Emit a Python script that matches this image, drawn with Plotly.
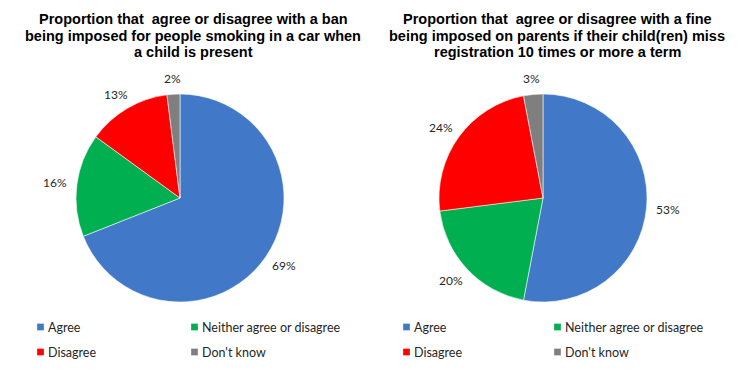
import math
import plotly.graph_objects as go

W, H = 742, 371

categories = ["Agree", "Neither agree or disagree", "Disagree", "Don't know"]
smoking_values = [69, 16, 13, 2]
fine_values = [53, 20, 24, 3]
colors = ["#4179C8", "#00B050", "#FF0000", "#7F7F7F"]

title_left = ["Proportion that\u00a0 agree or disagree with a ban",
              "being imposed for people smoking in a car when",
              "a child is present"]
title_right = ["Proportion that\u00a0 agree or disagree with a fine",
               "being imposed on parents if their child(ren) miss",
               "registration 10 times or more a term"]

# pie geometry (pixels)
R = 104
centers = [(180, 198), (543, 198)]


def dom(cx, cy):
    return dict(x=[(cx - R) / W, (cx + R) / W],
                y=[1 - (cy + R) / H, 1 - (cy - R) / H])


fig = go.Figure()
annotations = []
shapes = []

for (cx, cy), vals in zip(centers, [smoking_values, fine_values]):
    fig.add_trace(go.Pie(
        labels=categories, values=vals, sort=False, direction="clockwise",
        rotation=0, marker=dict(colors=colors,
                                line=dict(color="rgba(255,255,255,0.55)", width=1)),
        textinfo="none", hoverinfo="label+percent", showlegend=False,
        domain=dom(cx, cy)))
    total = sum(vals)
    cum = 0
    for v in vals:
        mid = (cum + v / 2) / total * 2 * math.pi
        cum += v
        ux, uy = math.sin(mid), -math.cos(mid)
        tw, th = 24, 12
        px = cx + (R + 10) * ux + ux * tw / 2
        py = cy + (R + 10) * uy + uy * th / 2
        annotations.append(dict(
            x=px / W, y=1 - py / H, xref="paper", yref="paper",
            text=f"{round(v / total * 100)}%", showarrow=False,
            xanchor="center", yanchor="middle",
            font=dict(family="Lato, Noto Sans, sans-serif", size=12, color="#262626")))

# titles (one annotation per line for tight line spacing)
line_y = [19, 35.5, 52]
for tx, lines in [(193, title_left), (557, title_right)]:
    for ly, t in zip(line_y, lines):
        annotations.append(dict(
            x=tx / W, y=1 - ly / H, xref="paper", yref="paper", text=f"<b>{t}</b>",
            showarrow=False, xanchor="center", yanchor="middle",
            font=dict(family="Liberation Sans, Arial, sans-serif", size=14.5, color="#000000")))

# custom 2x2 legends
leg_cols = [[37, 191], [403, 554]]
leg_rows = [327, 352]
for cols in leg_cols:
    for i, (cat, col) in enumerate(zip(categories, colors)):
        lx = cols[i % 2]
        ly = leg_rows[i // 2]
        shapes.append(dict(type="rect", xref="paper", yref="paper",
                           x0=lx / W, x1=(lx + 7) / W,
                           y0=1 - (ly + 3.5) / H, y1=1 - (ly - 3.5) / H,
                           fillcolor=col, line=dict(color="rgba(255,255,255,0.6)", width=0.5)))
        annotations.append(dict(
            x=(lx + 9) / W, y=1 - ly / H, xref="paper", yref="paper", text=cat,
            showarrow=False, xanchor="left", yanchor="middle",
            font=dict(family="Lato, Noto Sans, sans-serif", size=12.5, color="#262626")))

fig.update_layout(
    width=W, height=H, margin=dict(l=0, r=0, t=0, b=0),
    paper_bgcolor="white", plot_bgcolor="white",
    annotations=annotations, shapes=shapes, showlegend=False)

fig.write_html("out.html", config={"displayModeBar": False},
               post_script="document.body.style.margin='0';document.body.style.padding='0';")
